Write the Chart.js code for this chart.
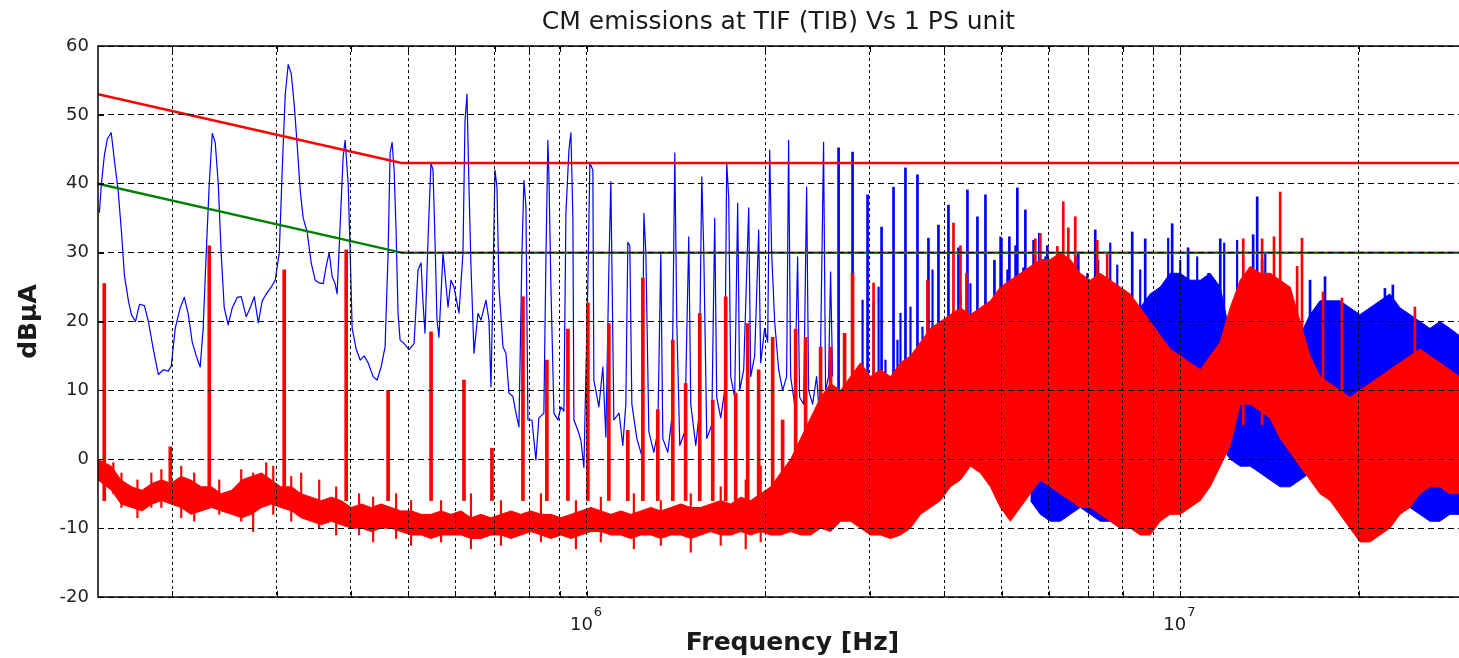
<!DOCTYPE html>
<html>
<head>
  <meta charset="UTF-8">
  <title>CM emissions at TIF (TIB) Vs 1 PS unit</title>
  <script src="https://cdn.jsdelivr.net/npm/chart.js"></script>
  <style>
    html, body { margin: 0; padding: 0; background: #fff; overflow: hidden; }
    canvas { display: block; }
  </style>
</head>
<body>
<canvas id="emiChart" width="1459" height="658"></canvas>
<script>
// all frequencies in MHz, levels in dBuA
var titleText = 'CM emissions at TIF (TIB) Vs 1 PS unit';
var xTitle = 'Frequency [Hz]';
var yTitle = 'dB\u03BCA';

// limit lines
var limitF = [0.15, 0.487, 29.5];
var qpLimit = [53, 43, 43];
var avgLimit = [40, 30, 30];

// gridline frequencies and the labelled decades
var gridF = [0.2, 0.3, 0.4, 0.5, 0.6, 0.7, 0.8, 0.9, 1, 2, 3, 4, 5, 6, 7, 8, 9, 10, 20];
var decadeF = [1, 10];
var decadeExp = ['6', '7'];

// blue trace, 150 kHz - 2.6 MHz
var blueF = [
  0.1508, 0.152, 0.1537, 0.1555, 0.1579, 0.1598, 0.1622, 0.1643, 0.1662, 0.1688,
  0.1708, 0.1735, 0.1762, 0.1796, 0.1824, 0.1859, 0.1896, 0.1933, 0.197, 0.1993,
  0.2024, 0.2064, 0.2097, 0.213, 0.2162, 0.2196, 0.223, 0.2256, 0.2283, 0.231,
  0.2337, 0.2364, 0.2392, 0.2419, 0.2448, 0.2486, 0.2526, 0.2575, 0.2615, 0.2666,
  0.2708, 0.2751, 0.2794, 0.2837, 0.2882, 0.2938, 0.2984, 0.3031, 0.3066, 0.3102,
  0.3138, 0.3175, 0.3212, 0.325, 0.3288, 0.3326, 0.3378, 0.3431, 0.3484, 0.3539,
  0.3594, 0.3636, 0.3679, 0.3722, 0.3765, 0.3794, 0.3839, 0.3884, 0.3914, 0.396,
  0.3991, 0.4022, 0.4085, 0.4149, 0.4213, 0.4279, 0.4363, 0.4431, 0.45, 0.457,
  0.4624, 0.466, 0.4696, 0.4733, 0.4769, 0.4806, 0.4844, 0.492, 0.5016, 0.5114,
  0.5193, 0.5255, 0.5295, 0.5336, 0.5398, 0.5461, 0.5504, 0.5547, 0.559, 0.5633,
  0.5722, 0.5834, 0.5902, 0.5971, 0.6088, 0.6183, 0.6231, 0.628, 0.6329, 0.6378,
  0.6453, 0.6554, 0.663, 0.676, 0.6839, 0.6893, 0.6946, 0.7, 0.7055, 0.711,
  0.7221, 0.7305, 0.7391, 0.7506, 0.7594, 0.7683, 0.7773, 0.7833, 0.7894, 0.7955,
  0.808, 0.8205, 0.8301, 0.8463, 0.8529, 0.8595, 0.8629, 0.8698, 0.88, 0.8937,
  0.9042, 0.9148, 0.9219, 0.9327, 0.9399, 0.9472, 0.9509, 0.9657, 0.977, 0.9885,
  1.0039, 1.0117, 1.0235, 1.0275, 1.0476, 1.064, 1.0764, 1.089, 1.0975, 1.1104,
  1.133, 1.1497, 1.1632, 1.1723, 1.1814, 1.1907, 1.214, 1.2378, 1.2475, 1.2572,
  1.2719, 1.2966, 1.3168, 1.3323, 1.3427, 1.369, 1.3904, 1.4066, 1.4175, 1.4341,
  1.4622, 1.485, 1.4966, 1.5259, 1.5438, 1.5619, 1.5741, 1.5926, 1.6234, 1.6424,
  1.6552, 1.6811, 1.7073, 1.7206, 1.734, 1.7475, 1.7747, 1.7954, 1.8095, 1.8378,
  1.8739, 1.8884, 1.9177, 1.9478, 1.963, 1.9937, 2.017, 2.0327, 2.0485, 2.0724,
  2.1047, 2.1376, 2.1709, 2.1878, 2.205, 2.2393, 2.2654, 2.2834, 2.3191, 2.3461,
  2.3644, 2.4013, 2.4387, 2.4673, 2.5056, 2.5251, 2.5549, 2.5748, 2.5948
];
var blueV = [
  35.8, 40, 44, 46.5, 47.4, 43.5, 39, 33, 26.7, 23,
  21, 20, 22.5, 22.3, 20, 16, 12.3, 13, 12.8, 13.5,
  19, 22, 23.5, 21, 17, 15, 13.4, 19, 30, 40,
  47.3, 46, 40, 30, 22, 19.5, 22, 23.5, 23.6, 20.7,
  22, 23.6, 19.8, 23, 24, 25, 26, 30, 42, 53,
  57.3, 56, 51.5, 45.5, 39, 35, 33, 28.5, 26, 25.6,
  25.5, 28, 30, 26.5, 25.5, 24, 34, 44, 46.3, 40,
  30, 19, 16, 14.4, 15, 14, 12, 11.5, 13.4, 16.3,
  30, 44.5, 46, 42, 33.3, 21.2, 17.3, 16.8, 15.9, 16.8,
  27.5, 28.5, 22.7, 18.3, 31.8, 43, 42, 31.8, 20.2, 17.7,
  30, 22.1, 26, 25, 21.2, 30, 49, 53, 39.5, 28,
  15.4, 21.2, 20.2, 23.1, 20.2, 10.5, 25.6, 42, 39.5, 25,
  16.3, 15.4, 9.6, 9.1, 6.7, 4.7, 30, 40.5, 36.7, 5.7,
  5.7, -0.1, 6, 6.7, 28.5, 46.3, 41.5, 25, 6.7, 5.7,
  7.6, 7, 35.7, 44.9, 47.4, 35, 5.7, 4.2, 2.8, -1.2,
  25.6, 43, 42, 11.5, 7.6, 13.4, 3.2, 27.5, 40.3, 5.7,
  6.7, 2, 8, 31.5, 31, 8, 3, 0.5, 35.7, 30,
  4, 1, 4, 30, 3, 1, 6, 44.5, 20, 2,
  4, 32.3, 8, 2, 6, 41, 30, 3, 5, 35,
  9, 6, 10, 43, 38, 12, 9, 37.2, 10, 13,
  36.5, 12, 15, 33.3, 14, 19, 17, 44.9, 30, 20,
  13, 10, 12, 46.3, 12, 8, 29.4, 9, 8, 39.5,
  10, 8, 12, 6, 46, 10, 12, 27.2, 12
];

// blue harmonics sticking out above the dense part (2.6 - 23 MHz)
var blueSpikeF = [2.656, 2.804, 2.972, 3.138, 3.287, 3.443, 3.607, 3.764, 3.913, 4.068,
  4.229, 4.379, 4.552, 4.696, 4.863, 4.996, 5.153, 5.315, 5.483, 5.788,
  5.971, 6.733, 7.191, 8.3, 8.729, 9.692, 10.31, 11.68, 13.27, 13.48,
  13.74, 14.17, 16.55, 17.54, 22.13, 22.82];
var blueSpikeTop = [45.2, 44.6, 38.4, 33.7, 39.5, 42.3, 41.3, 32.1, 34, 36.9,
  30.7, 39.1, 35.2, 38.4, 28.9, 32.1, 32.3, 39.4, 36.2, 32.8,
  31, 29.9, 33.3, 33, 32, 34.2, 30.7, 32, 32.6, 38.1,
  29, 27, 26, 26.5, 24.8, 25.3];
var blueSpikeBase = 8;

// smaller blue harmonics between those
var blueMinorF = [2.915, 3.042, 3.102, 3.186, 3.338, 3.377, 3.511, 3.678, 3.824, 4.262,
  4.43, 4.732, 4.976, 5.113, 5.274, 5.44, 5.655, 5.925, 6.087, 6.707,
  6.972, 7.275, 7.622, 7.832, 8.562, 9.18, 9.543, 10.0, 10.68, 11.15,
  11.86, 12.47, 12.77, 13.91];
var blueMinorTop = [23.1, 22.7, 25, 14.4, 17.3, 21.2, 22.1, 19.2, 27.5, 24.1,
  25.5, 22.1, 32.3, 27.5, 31, 27.8, 31.8, 29.4, 22.1, 29.4,
  27, 28.9, 31.4, 28.2, 27.5, 24, 32.1, 28.9, 29.4, 27,
  31.4, 31.8, 28.9, 29.9];

// visible extent of the dense blue part above 5.5 MHz
var blueBandF = [5.59, 5.811, 6.04, 6.279, 6.527, 6.785, 7.053, 7.332, 7.622, 7.923,
  8.236, 8.562, 8.9, 9.252, 9.617, 10, 10.39, 10.81, 11.23, 11.68,
  12.14, 12.62, 13.12, 13.64, 14.17, 14.74, 15.32, 15.92, 16.55, 17.2,
  17.88, 18.59, 19.32, 20.09, 20.88, 21.71, 22.56, 23.46, 24.38, 25.35,
  26.35, 27.39, 28.47, 29.5];
var blueBandHi = [22, 22, 21, 21, 20, 20, 20, 20, 20, 20,
  21, 22, 24, 25, 27, 27, 26, 26, 27, 25,
  18, 10, 11, 12, 12, 13, 14, 18, 21, 23,
  23, 23, 22, 21, 22, 23, 24, 22, 21, 20,
  19, 20, 19, 18];
var blueBandLo = [-6, -8, -9, -9, -8, -7, -8, -9, -9, -10,
  -10, -10, -10, -6, -5, -4, -3, -2, 0, 2,
  0, -1, -1, -2, -3, -4, -4, -3, -2, -1,
  0, 2, 3, 3, 2, 0, -2, -5, -7, -8,
  -9, -9, -8, -8];

// red trace: noise floor / dense band, upper and lower extent
var redBandF = [0.15, 0.158, 0.164, 0.171, 0.178, 0.185, 0.192, 0.199, 0.207, 0.215,
  0.224, 0.233, 0.242, 0.252, 0.262, 0.272, 0.283, 0.294, 0.305, 0.318,
  0.33, 0.343, 0.357, 0.371, 0.385, 0.401, 0.417, 0.433, 0.45, 0.468,
  0.486, 0.506, 0.526, 0.546, 0.568, 0.59, 0.614, 0.638, 0.663, 0.689,
  0.717, 0.745, 0.774, 0.805, 0.837, 0.87, 0.904, 0.94, 0.977, 1.016,
  1.056, 1.098, 1.141, 1.186, 1.233, 1.282, 1.332, 1.385, 1.44, 1.497,
  1.556, 1.617, 1.681, 1.748, 1.817, 1.888, 1.963, 2.041, 2.121, 2.205,
  2.292, 2.383, 2.477, 2.575, 2.677, 2.782, 2.892, 3.007, 3.125, 3.249,
  3.377, 3.511, 3.65, 3.794, 3.944, 4.1, 4.262, 4.43, 4.605, 4.787,
  4.976, 5.173, 5.377, 5.59, 5.811, 6.04, 6.279, 6.527, 6.785, 7.053,
  7.332, 7.622, 7.923, 8.236, 8.562, 8.9, 9.252, 9.617, 10, 10.39,
  10.81, 11.23, 11.68, 12.14, 12.62, 13.12, 13.64, 14.17, 14.74, 15.32,
  15.92, 16.55, 17.2, 17.88, 18.59, 19.32, 20.09, 20.88, 21.71, 22.56,
  23.46, 24.38, 25.35, 26.35, 27.39, 28.47, 29.5];
var redHi = [0, -1, -3, -4, -4.5, -3.5, -3, -3.5, -2.5, -3,
  -4, -4, -5, -4.5, -3, -2.5, -2, -3, -4, -4,
  -5, -5.5, -6, -5.5, -6, -7, -6.5, -7, -6.5, -7,
  -7.5, -7.5, -8, -8, -7.5, -8, -7.5, -8.5, -8, -8.5,
  -8, -7.5, -8, -7.5, -8, -8, -8.5, -8, -7.5, -7,
  -7.5, -8, -7.5, -8, -7.5, -7, -7.5, -7, -6.5, -7,
  -7, -6.5, -6, -6.5, -5.5, -6, -5, -4, -2, 0,
  3, 6, 9, 11, 10, 12, 14, 12, 13, 12,
  14, 15, 17, 19, 20, 21, 22, 21, 22, 23,
  25, 26, 27, 28, 29, 29, 30, 29, 27, 26,
  27, 26, 25, 24, 22, 20, 18, 16, 15, 14,
  13, 15, 17, 22, 26, 28, 27, 27, 26, 25,
  20, 15, 12, 11, 10, 9, 10, 11, 12, 13,
  14, 15, 16, 15, 14, 13, 12];
var redLo = [-3, -4.5, -6.5, -7, -7.5, -6.5, -6, -6.5, -7, -8,
  -7.5, -7, -7.5, -8, -8.5, -8, -7, -6.5, -7, -7.5,
  -8.5, -9, -9.5, -9, -9.5, -10, -10, -10.5, -10, -10,
  -10.5, -11, -11, -11.5, -11, -11, -11, -11.5, -11.5, -11,
  -11, -11.5, -11, -10.5, -11, -11.5, -11, -11.5, -11, -10.5,
  -10.5, -11, -11, -11.5, -11, -11, -11.5, -11, -11, -11.5,
  -11, -10.5, -11, -11, -10.5, -11, -10.5, -11, -11, -10.5,
  -11, -11, -10, -10.5, -9, -9, -10, -11, -11, -11.5,
  -11, -10, -8, -7, -6, -4, -3, -1, -2, -4,
  -7, -9, -7, -5, -3, -4, -5, -6, -7, -7,
  -8, -9, -10, -10, -11, -11, -9, -8, -8, -7,
  -6, -4, -1, 2, 8, 8, 7, 6, 3, 1,
  -1, -3, -5, -6, -8, -10, -12, -12, -11, -10,
  -8, -7, -5, -4, -4, -5, -5];

// jagged excursions of the red noise floor
var floorNoiseF = [0.1592, 0.1643, 0.1748, 0.1845, 0.1918, 0.2072, 0.2179, 0.2401, 0.2615, 0.2739,
  0.2881, 0.2961, 0.3175, 0.33, 0.3539, 0.378, 0.4132, 0.4363, 0.477, 0.5055,
  0.5679, 0.6378, 0.7165, 0.8368, 0.9583, 1.0557, 1.2, 1.3323, 1.4966, 1.6811,
  1.8522, 1.963];
var floorNoiseTop = [-0.5, -2, -3, -2, -1.5, -1, -2, -3, -1.5, -2,
  -0.5, -1, -2.5, -2, -3, -4, -5, -5.5, -5, -6,
  -6, -5, -6, -5, -6, -5.5, -5, -6, -5, -4,
  -3, -1];
var floorNoiseBot = [-5, -7, -8.5, -7, -7, -8.5, -9, -8, -9, -10.5,
  -6, -8, -9, -8, -10, -11, -11, -12, -11.5, -12.5,
  -12, -13, -12.5, -12, -13, -12, -13, -12.5, -13.5, -12.5,
  -13, -12];

// red harmonics rising from the floor (150 kHz - 2.8 MHz)
var redSpikeF = [0.1537, 0.1986, 0.231, 0.309, 0.393, 0.4624, 0.5463, 0.6207, 0.6919, 0.7803,
  0.8562, 0.9291, 1.0039, 1.089, 1.172, 1.2427, 1.3168, 1.3957, 1.467, 1.5497,
  1.6298, 1.7138, 1.7815, 1.8665, 1.9478, 2.0565, 2.1376, 2.2483, 2.3369, 2.4769,
  2.5748, 2.7186, 2.8039];
var redSpikeTop = [25.5, 1.8, 31, 27.5, 30.4, 10, 18.5, 11.5, 1.6, 23.6,
  14.4, 18.9, 22.7, 19.7, 4.2, 26.3, 7.2, 17.3, 11, 21.2,
  8.6, 23.6, 9.6, 19.7, 13, 17.7, 5.7, 18.9, 17.7, 16.3,
  16.3, 18.3, 27];
var redSpikeBase = -6;

// red peaks above the dense band
var redPeakF = [3.042, 3.749, 4.148, 4.262, 4.362, 5.699, 5.811, 6.206, 6.352, 6.477,
  6.654, 7.247, 7.532, 12.77, 13.74, 14.39, 14.74, 15.74, 16.04, 17.4,
  18.73, 24.86];
var redPeakTop = [25.6, 26, 34.3, 31, 27, 32, 32.8, 30.9, 37.4, 33.6,
  35.2, 31.8, 30, 32, 32, 32.3, 38.8, 28, 32.1, 24.3,
  23.4, 22.1];
var redPeakBase = 5;

var RED = '#ff0000', BLUE = '#0000ff', GREEN = '#008000';

function toPoints(f, v) {
  return f.map(function (fi, i) { return { x: fi * 1e6, y: v[i] }; });
}
function toSticks(f, top, base) {
  return f.map(function (fi, i) {
    var b = Array.isArray(base) ? base[i] : base;
    return { x: fi * 1e6, y: [b, top[i]] };
  });
}

function lineSet(data, color, width, order, fill) {
  return {
    type: 'line', data: data, borderColor: color, backgroundColor: color,
    borderWidth: width, pointRadius: 0, tension: 0, borderJoinStyle: 'round',
    fill: fill || false, order: order
  };
}
function stickSet(data, color, thickness, order) {
  return {
    type: 'bar', data: data, backgroundColor: color, borderWidth: 0,
    barThickness: thickness, grouped: false, order: order
  };
}

// frame, MATLAB style ticks, titles and decade labels
var matlabAxes = {
  id: 'matlabAxes',
  afterDraw: function (chart) {
    var ctx = chart.ctx, a = chart.chartArea;
    var xs = chart.scales.x, ys = chart.scales.y;
    ctx.save();
    ctx.strokeStyle = '#000';
    ctx.lineWidth = 1.5;
    ctx.beginPath();
    ctx.moveTo(a.right + 2, a.top);
    ctx.lineTo(a.left, a.top);
    ctx.lineTo(a.left, a.bottom);
    ctx.lineTo(a.right + 2, a.bottom);
    ctx.stroke();

    ctx.lineWidth = 1;
    ctx.beginPath();
    gridF.forEach(function (f) {
      var px = Math.round(xs.getPixelForValue(f * 1e6)) + 0.5;
      ctx.moveTo(px, a.top); ctx.lineTo(px, a.top + 6);
      ctx.moveTo(px, a.bottom); ctx.lineTo(px, a.bottom - 6);
    });
    ys.ticks.forEach(function (t) {
      var py = Math.round(ys.getPixelForValue(t.value)) + 0.5;
      ctx.moveTo(a.left, py); ctx.lineTo(a.left + 6, py);
    });
    ctx.stroke();

    ctx.fillStyle = '#1a1a1a';
    ctx.textBaseline = 'alphabetic';
    ctx.textAlign = 'center';
    ctx.font = '25px "DejaVu Sans"';
    ctx.fillText(titleText, (a.left + a.right) / 2, 29);

    ctx.font = 'bold 25px "DejaVu Sans"';
    ctx.fillText(xTitle, (a.left + a.right) / 2 + 14, 650);

    ctx.save();
    ctx.translate(36, (a.top + a.bottom) / 2);
    ctx.rotate(-Math.PI / 2);
    ctx.fillText(yTitle, 0, 0);
    ctx.restore();

    decadeF.forEach(function (f, i) {
      var px = xs.getPixelForValue(f * 1e6);
      ctx.textAlign = 'right';
      ctx.font = '18px "DejaVu Sans"';
      ctx.fillText('10', px + 6, 630);
      ctx.textAlign = 'left';
      ctx.font = '13px "DejaVu Sans"';
      ctx.fillText(decadeExp[i], px + 7, 616);
    });
    ctx.restore();
  }
};

var ctx = document.getElementById('emiChart').getContext('2d');
new Chart(ctx, {
  type: 'line',
  data: {
    datasets: [
      lineSet(toPoints(limitF, qpLimit), RED, 2.5, 0),
      lineSet(toPoints(limitF, avgLimit), GREEN, 2.5, 0),
      stickSet(toSticks(redSpikeF, redSpikeTop, redSpikeBase), RED, 3, 1),
      stickSet(toSticks(redPeakF, redPeakTop, redPeakBase), RED, 2, 1),
      stickSet(toSticks(floorNoiseF, floorNoiseTop, floorNoiseBot), RED, 1.5, 1),
      lineSet(toPoints(redBandF, redHi), RED, 1, 2, '+1'),
      lineSet(toPoints(redBandF, redLo), RED, 1, 2),
      stickSet(toSticks(blueSpikeF, blueSpikeTop, blueSpikeBase), BLUE, 2, 3),
      stickSet(toSticks(blueMinorF, blueMinorTop, blueSpikeBase), BLUE, 1.5, 3),
      lineSet(toPoints(blueF, blueV), BLUE, 1.2, 3),
      lineSet(toPoints(blueBandF, blueBandHi), BLUE, 1, 4, '+1'),
      lineSet(toPoints(blueBandF, blueBandLo), BLUE, 1, 4)
    ]
  },
  options: {
    responsive: false,
    animation: false,
    devicePixelRatio: 1,
    events: [],
    layout: { padding: { top: 46, left: 0, right: 0, bottom: 0 }, autoPadding: false },
    plugins: {
      legend: { display: false },
      tooltip: { enabled: false },
      title: { display: false }
    },
    scales: {
      x: {
        type: 'logarithmic',
        min: 1.5e5,
        max: 2.95e7,
        offset: false,
        afterBuildTicks: function (s) {
          s.ticks = gridF.map(function (f) { return { value: f * 1e6 }; });
        },
        afterFit: function (s) { s.height = 61; },
        ticks: { display: false },
        grid: { color: '#000', lineWidth: 1, drawTicks: false, offset: false, z: 1 },
        border: { display: false, dash: [3, 3] }
      },
      y: {
        min: -20,
        max: 60,
        afterFit: function (s) { s.width = 98; },
        ticks: {
          stepSize: 10, padding: 9, color: '#222',
          font: { family: 'DejaVu Sans', size: 18 }
        },
        grid: { color: '#000', lineWidth: 1, drawTicks: false, z: 1 },
        border: { display: false, dash: [6, 4] }
      }
    }
  },
  plugins: [matlabAxes]
});
</script>
</body>
</html>
